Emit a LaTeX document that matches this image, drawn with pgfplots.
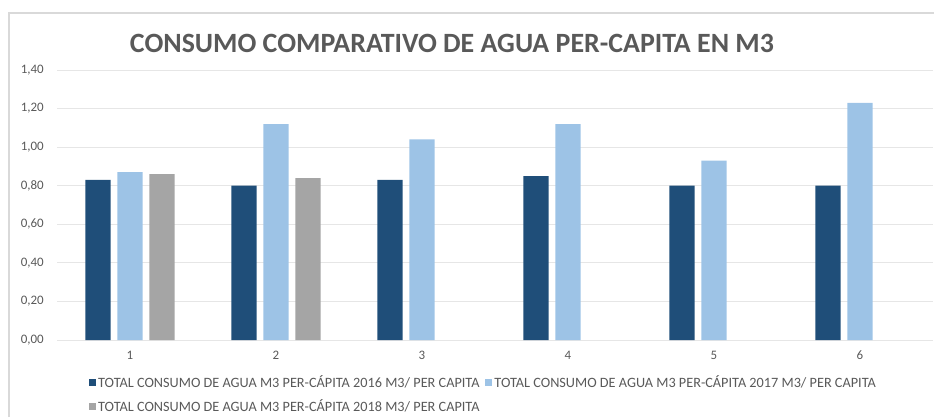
\documentclass[border=0pt]{standalone}
\usepackage{fontspec}
\setmainfont{Carlito}
\usepackage{pgfplots}
\pgfplotsset{compat=1.18}
\definecolor{s1}{HTML}{1F4E79}
\definecolor{s2}{HTML}{9DC3E6}
\definecolor{s3}{HTML}{A5A5A5}
\definecolor{txt}{HTML}{595959}
\definecolor{gridc}{HTML}{E6E6E6}
\begin{document}
\begin{tikzpicture}[x=1bp,y=1bp]
\useasboundingbox (0,0) rectangle (934,417);
\draw[color=black!15, line width=1.2bp] (9,0) -- (9,404) -- (934,404);
\node[font=\bfseries\fontsize{28}{32}\selectfont, text=txt] at (452,374) {CONSUMO COMPARATIVO DE AGUA PER-CAPITA EN M3};
\begin{axis}[
  at={(57bp,77bp)}, anchor=south west,
  scale only axis, width=876bp, height=270bp,
  ybar=6.6bp, bar width=25.4bp,
  every axis plot post/.append style={legend image code/.code={\fill[##1] (0bp,-3.5bp) rectangle (7bp,3.5bp);}},
  xmin=0.5, xmax=6.5, ymin=0, ymax=1.4,
  xtick={1,2,3,4,5,6},
  ytick={0,0.2,0.4,0.6,0.8,1.0,1.2,1.4},
  axis line style={draw=none},
  major tick length=0pt,
  ymajorgrids, grid style={gridc, line width=1bp},
  /pgf/number format/assume math mode=true,
  yticklabel style={/pgf/number format/use comma, /pgf/number format/fixed, /pgf/number format/fixed zerofill, /pgf/number format/precision=2},
  tick label style={font=\fontsize{13}{15}\selectfont, text=txt, inner sep=0pt},
  yticklabel style={anchor=east, xshift=-13bp},
  xticklabel style={anchor=north, yshift=-11bp},
  legend columns=2,
  legend style={at={(axis description cs:0.0365,-0.124)}, anchor=north west, draw=none, fill=none, inner sep=0pt,
    font=\fontsize{14.3}{16}\selectfont, text=txt, row sep=7bp,
    /tikz/every even column/.append style={column sep=4bp}},
  legend cell align=left,
]
\addplot[fill=s1, draw=none] coordinates {(1,0.83)(2,0.80)(3,0.83)(4,0.85)(5,0.80)(6,0.80)};
\addlegendentry{TOTAL CONSUMO DE AGUA M3 PER-CÁPITA 2016 M3/ PER CAPITA}
\addplot[fill=s2, draw=none] coordinates {(1,0.87)(2,1.12)(3,1.04)(4,1.12)(5,0.93)(6,1.23)};
\addlegendentry{TOTAL CONSUMO DE AGUA M3 PER-CÁPITA 2017 M3/ PER CAPITA}
\addplot[fill=s3, draw=none] coordinates {(1,0.86)(2,0.84)};
\addlegendentry{TOTAL CONSUMO DE AGUA M3 PER-CÁPITA 2018 M3/ PER CAPITA}
\end{axis}
\end{tikzpicture}
\end{document}
